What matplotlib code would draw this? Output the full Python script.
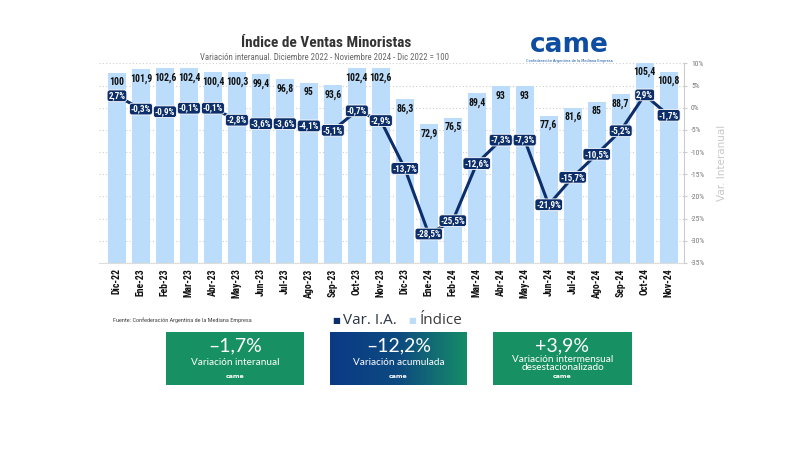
import numpy as np
import matplotlib
matplotlib.use("Agg")
import matplotlib.pyplot as plt
from matplotlib import font_manager
from matplotlib.transforms import blended_transform_factory
from matplotlib.colors import LinearSegmentedColormap
from matplotlib.patches import Rectangle

# Data
meses = ["Dic-22", "Ene-23", "Feb-23", "Mar-23", "Abr-23", "May-23", "Jun-23", "Jul-23",
         "Ago-23", "Sep-23", "Oct-23", "Nov-23", "Dic-23", "Ene-24", "Feb-24", "Mar-24",
         "Abr-24", "May-24", "Jun-24", "Jul-24", "Ago-24", "Sep-24", "Oct-24", "Nov-24"]
indice = [100, 101.9, 102.6, 102.4, 100.4, 100.3, 99.4, 96.8, 95, 93.6, 102.4, 102.6,
          86.3, 72.9, 76.5, 89.4, 93, 93, 77.6, 81.6, 85, 88.7, 105.4, 100.8]
var_ia = [2.7, -0.3, -0.9, -0.1, -0.1, -2.8, -3.6, -3.6, -4.1, -5.1, -0.7, -2.9,
          -13.7, -28.5, -25.5, -12.6, -7.3, -7.3, -21.9, -15.7, -10.5, -5.2, 2.9, -1.7]
pct_ticks = [10, 5, 0, -5, -10, -15, -20, -25, -30, -35]

box_values = ["–1,7%", "–12,2%", "+3,9%"]
box_texts = ["Variación interanual", "Variación acumulada", "Variación intermensual\ndesestacionalizado"]

names = {f.name for f in font_manager.fontManager.ttflist}
NARROW = "DejaVu Sans"
for cand in ["Liberation Sans Narrow", "Roboto Condensed", "Open Sans Condensed", "Roboto"]:
    if cand in names:
        NARROW = cand
        break
LIGHT = "Lato" if "Lato" in names else "DejaVu Sans"

NAVY = "#0c2f6b"
BAR = "#bbdcfa"
GREEN = "#179163"

fig = plt.figure(figsize=(8, 4.5), dpi=100)

# overlay in pixel coordinates for decorations
deco = fig.add_axes([0, 0, 1, 1])
deco.set_xlim(0, 800)
deco.set_ylim(450, 0)
deco.axis("off")
deco.set_zorder(0)

ax_b = fig.add_axes([0.124, 0.416, 0.731, 0.443])
ax = ax_b.twinx()
ax_b.set_zorder(1)
ax.set_zorder(2)
ax.patch.set_visible(False)

x = np.arange(len(meses))
ax_b.bar(x, indice, width=0.75, color=BAR, zorder=2)
ax_b.set_ylim(0, 105.06)
ax_b.set_xlim(-0.74, len(meses) - 1 + 0.64)
for xi, v in zip(x, indice):
    lab = f"{v:g}".replace(".", ",")
    ax_b.annotate(lab, (xi, v), xytext=(0, -3), textcoords="offset points",
                  ha="center", va="top", fontsize=7, fontweight="bold",
                  family=NARROW, color="#111111", zorder=3, annotation_clip=False)

ax.set_ylim(-35, 10)
# dotted grid below bars
tr = blended_transform_factory(ax_b.transAxes, ax.transData)
for p in pct_ticks:
    ax_b.plot([0, 1], [p, p], transform=tr, ls=(0, (1, 2)), color="#cfcfcf", lw=0.8, zorder=0)

ax.plot(x, var_ia, color=NAVY, lw=2.2, zorder=3)
for xi, v in zip(x, var_ia):
    lab = f"{v:.1f}%".replace(".", ",")
    ax.text(xi, v, lab, ha="center", va="center", fontsize=6.5, fontweight="bold",
            family=NARROW, color="white", zorder=4,
            bbox=dict(boxstyle="round,pad=0.15,rounding_size=0.3", fc=NAVY, ec="white", lw=0.6))

ax.set_yticks(pct_ticks)
ax.set_yticklabels([f"{p}%" for p in pct_ticks], fontsize=5.5, color="#777777", family=NARROW)
ax.tick_params(axis="y", length=2, color="#cccccc", pad=3)
ax.set_ylabel("Var. Interanual", fontsize=7.5, color="#c8c8c8")
ax.yaxis.set_label_coords(1.057, 0.5)

ax_b.set_yticks([])
ax_b.set_xticks(x)
ax_b.set_xticklabels(meses, rotation=90, fontsize=7, fontweight="bold", family=NARROW, color="#111111")
ax_b.tick_params(axis="x", length=0, pad=4)
for a in (ax, ax_b):
    for s in ("top", "left"):
        a.spines[s].set_visible(False)
ax.spines["right"].set_color("#cccccc")
ax_b.spines["right"].set_visible(False)
ax.spines["bottom"].set_visible(False)
ax_b.spines["bottom"].set_color("#dddddd")

# titles
deco.text(326, 43, "Índice de Ventas Minoristas", ha="center", va="center", fontsize=11,
          fontweight="bold", family=NARROW, color="#333333")
deco.text(325, 58, "Variación interanual. Diciembre 2022 - Noviembre 2024 - Dic 2022 = 100",
          ha="center", va="center", fontsize=6.3, family=NARROW, color="#666666")

# logo
deco.text(569, 45, "came", ha="center", va="center", fontsize=19, fontweight="bold",
          color="#0e4d9f", family="DejaVu Sans")
deco.text(569, 61, "Confederación Argentina de la Mediana Empresa", ha="center", va="center",
          fontsize=2.5, color="#0e4d9f")

# source and legend
deco.text(113, 320, "Fuente: Confederación Argentina de la Mediana Empresa", ha="left", va="center",
          fontsize=4.5, family=NARROW, color="#444444")
deco.text(336, 321, "■", ha="center", va="center", fontsize=6, color=NAVY)
deco.text(343, 320, "Var. I.A.", ha="left", va="center", fontsize=11, family="Open Sans", color="#2b3645")
deco.text(412, 321, "■", ha="center", va="center", fontsize=6, color=BAR)
deco.text(420, 320, "Índice", ha="left", va="center", fontsize=11, family="Open Sans", color="#3a3a3a")

# summary boxes
boxes = [(166, 304), (330, 467), (493, 632)]
top, bot = 332, 385
for i, (x0, x1) in enumerate(boxes):
    if i == 1:
        cmap = LinearSegmentedColormap.from_list("g", ["#0b3a86", "#0d4a80", "#168c68"])
        deco.imshow(np.linspace(0, 1, 256).reshape(1, -1), cmap=cmap, aspect="auto",
                    extent=[x0, x1, bot, top], zorder=1)
    else:
        deco.add_patch(Rectangle((x0, top), x1 - x0, bot - top, fc=GREEN, ec="none", zorder=1))
    cx = (x0 + x1) / 2
    deco.text(cx, 345.5, box_values[i], ha="center", va="center", fontsize=14,
              family=LIGHT, fontweight="normal", color="white", zorder=2)
    if i == 2:
        deco.text(cx, 363.5, box_texts[i], ha="center", va="center", fontsize=7.2,
                  family=LIGHT, color="white", linespacing=0.95, zorder=2)
    else:
        deco.text(cx, 362.5, box_texts[i], ha="center", va="center", fontsize=7.2,
                  family=LIGHT, color="white", zorder=2)
    deco.text(cx, 376.5, "came", ha="center", va="center", fontsize=4.5, fontweight="bold",
              color="white", zorder=2)
deco.set_xlim(0, 800)
deco.set_ylim(450, 0)

fig.savefig("out.png", dpi=100)
